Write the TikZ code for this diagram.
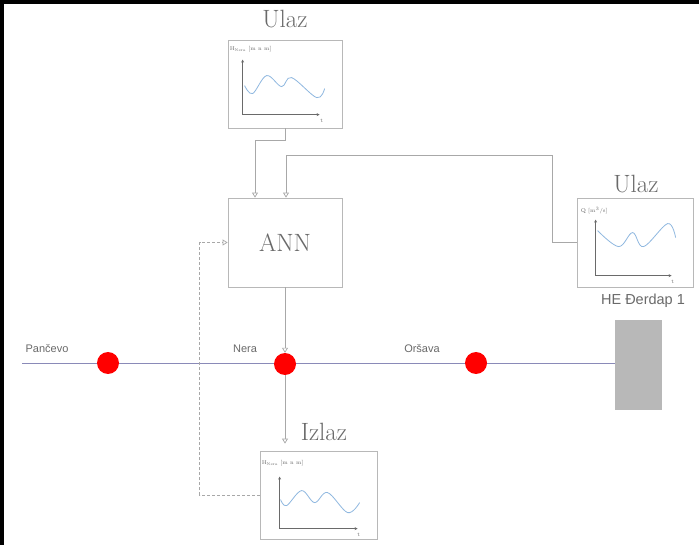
\documentclass[tikz,border=0pt]{standalone}
\usepackage{fontspec}
\newfontfamily\labelfont{Liberation Sans}
\usetikzlibrary{arrows.meta}
\definecolor{boxgray}{HTML}{B8B8B8}
\definecolor{linegray}{HTML}{A8A8A8}
\definecolor{textgray}{HTML}{6A6A6A}
\definecolor{rivercol}{HTML}{8A8AB8}
\definecolor{curvecol}{HTML}{8FB8E0}
\definecolor{damgray}{HTML}{B8B8B8}
\tikzset{
  plotbox/.style={draw=boxgray, line width=0.8pt, minimum width=114pt, minimum height=89pt, inner sep=0pt},
  annbox/.style={draw=boxgray, line width=0.8pt, minimum width=114pt, minimum height=89pt, inner sep=0pt,
    font=\fontsize{25}{27}\selectfont, text=textgray},
  title/.style={font=\fontsize{25}{27}\selectfont, text=textgray},
  place/.style={font=\labelfont\fontsize{11}{13}\selectfont, text=textgray},
  conn/.style={draw=linegray, line width=0.7pt, -{Triangle[open,length=5pt,width=6pt]}},
  axis/.style={draw=textgray, line width=0.6pt, -{Stealth[length=3pt,width=3pt]}},
  curve/.style={draw=curvecol, line width=0.8pt},
  tiny/.style={font=\fontsize{5.5}{6.5}\selectfont, text=textgray, inner sep=0pt},
  station/.style={circle, fill=red, minimum size=22pt, inner sep=0pt},
  river/.style={draw=rivercol, line width=0.7pt},
  dam/.style={fill=damgray, minimum width=47pt, minimum height=90pt, inner sep=0pt}
}
\begin{document}
\begin{tikzpicture}[x=1pt,y=-1pt]
\useasboundingbox (0,0) rectangle (699,545);
\fill[white] (0,0) rectangle (699,545);
% dark edge along the top and the left
\fill[black] (0,0) rectangle (699,4);
\fill[black] (0,0) rectangle (4,545);

% boxes
\node[plotbox, minimum height=88pt] (inTop) at (285,84) {};
\node[plotbox, minimum width=116pt] (inRight) at (635,242.5) {};
\node[plotbox, minimum width=117pt, minimum height=88pt] (outBox) at (318.5,495) {};
\node[annbox] (ann) at (285,242.5) {ANN};

% titles
\node[title] (tTop) at (285,19) {Ulaz};
\node[title] (tRight) at (636,184) {Ulaz};
\node[title] (tOut) at (324,432) {Izlaz};
\node[place, font=\labelfont\fontsize{14.5}{16}\selectfont] (tDam) at (643,301) {HE Đerdap 1};

% small charts inside the boxes
\begin{scope}[shift={(inTop.north west)}]
  \node[tiny, anchor=west] (lTop) at (2,10) {H$_{\rm Nera}$ [m n m]};
  \draw[axis] (15,75) -- (15,20);
  \draw[axis] (15,75) -- (92,75);
  \node[tiny] (xTop) at (94,81) {t};
  \draw[curve] plot[smooth, tension=0.6] coordinates
    {(17,46) (25,54) (39,36) (54,47) (64,38) (89,58) (97,49)};
\end{scope}
\begin{scope}[shift={(inRight.north west)}]
  \node[tiny, anchor=west] (lRight) at (4,13) {Q [m$^3$/s]};
  \draw[axis] (19,78) -- (19,22);
  \draw[axis] (19,78) -- (95,78);
  \node[tiny] (xRight) at (96,84) {t};
  \draw[curve] plot[smooth, tension=0.6] coordinates
    {(21,33) (42,49) (56,35) (67,49) (91,26) (99,40)};
\end{scope}
\begin{scope}[shift={(outBox.north west)}]
  \node[tiny, anchor=west] (lOut) at (2,13) {H$_{\rm Nera}$ [m n m]};
  \draw[axis] (20,78) -- (20,26);
  \draw[axis] (20,78) -- (98,78);
  \node[tiny] (xOut) at (99,84) {t};
  \draw[curve] plot[smooth, tension=0.6] coordinates
    {(21,49) (27,55) (42,40) (55,52) (68,42) (88,62) (100,52)};
\end{scope}

% river with the gauging stations and the dam
\node[dam] (dam) at (638.5,365) {};
\coordinate (riverStart) at (22,363);
\draw[river] (riverStart) -- (dam.west |- riverStart);
\node[station] (pancevo) at (108,363) {};
\node[station] (nera) at (285,364) {};
\node[station] (orsava) at (476,363) {};
\node[place] (lPancevo) at (47,349) {Pančevo};
\node[place] (lNera) at (245,349) {Nera};
\node[place] (lOrsava) at (422,349) {Oršava};

% connectors
\draw[conn] (inTop.south) -- ++(0,12) -| ([xshift=-30pt]ann.north);
\draw[conn] (inRight.west) -- ++(-24,0) -- ++(0,-87) -| ([xshift=1pt]ann.north);
\draw[conn] (ann.south) -- (nera);
\draw[conn, shorten >=7pt] (nera) -- (outBox.north -| nera);
\draw[conn, dashed, dash pattern=on 3pt off 2pt] (outBox.west) -- ++(-60,0) |- (ann.west);
\end{tikzpicture}
\end{document}
